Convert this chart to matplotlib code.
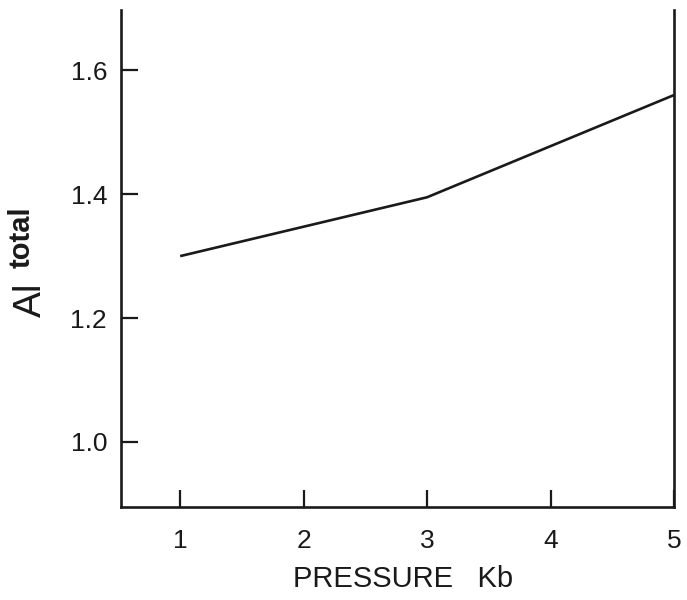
import matplotlib
matplotlib.use('Agg')
import matplotlib.pyplot as plt

# Al(total) against pressure
pressure = [1.0, 3.0, 5.0]
al_total = [1.30, 1.395, 1.56]

x_ticks = [1, 2, 3, 4, 5]
y_ticks = [1.0, 1.2, 1.4, 1.6]
y_ticklabels = ['1.0', '1.2', '1.4', '1.6']

plt.rcParams['font.family'] = ['Liberation Sans', 'DejaVu Sans']

fig = plt.figure(figsize=(6.87, 6.0), dpi=100)
ax = fig.add_axes([0.176, 0.155, 0.805, 0.828])

ax.plot(pressure, al_total, color='#1a1a1a', lw=1.9, solid_capstyle='butt')

ax.set_xlim(0.52, 5.0)
ax.set_ylim(0.895, 1.697)
ax.set_xticks(x_ticks)
ax.set_yticks(y_ticks)
ax.set_yticklabels(y_ticklabels)

ax.spines['top'].set_visible(False)
for s in ['left', 'bottom', 'right']:
    ax.spines[s].set_linewidth(1.9)
    ax.spines[s].set_color('#1a1a1a')

ax.tick_params(axis='x', direction='in', length=12, width=1.6, pad=16,
               labelsize=19, colors='#1a1a1a')
ax.tick_params(axis='y', direction='in', length=12, width=1.6, pad=10,
               labelsize=19, colors='#1a1a1a')
ax.tick_params(axis='y', which='both', right=False)

ax.set_xlabel('PRESSURE   Kb', fontsize=21, color='#1a1a1a')
ax.xaxis.set_label_coords(0.51, -0.117)

# y label: "Al" with a raised "total"
fig.text(0.045, 0.5, 'Al', rotation=90, fontsize=28, color='#1a1a1a',
         ha='center', va='center')
fig.text(0.031, 0.605, 'total', rotation=90, fontsize=21, color='#1a1a1a',
         ha='center', va='center', fontweight='semibold')

plt.savefig('out.png', format='png')
